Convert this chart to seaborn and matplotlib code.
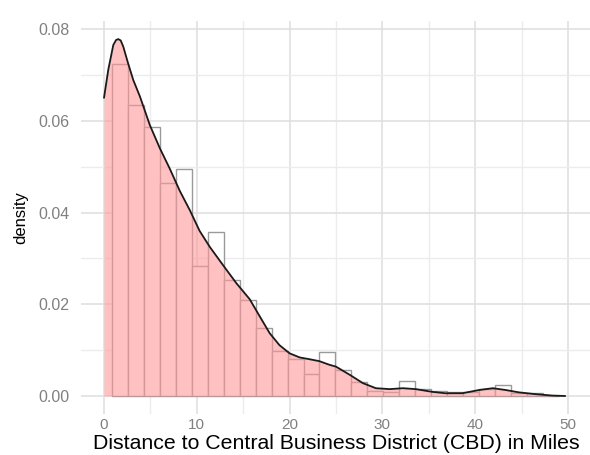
import numpy as np
import pandas as pd
import matplotlib
matplotlib.use("Agg")
import matplotlib.pyplot as plt
import seaborn as sns

# ---- data ----
first_edge = 0.86
bin_width = 1.72
bar_heights = [0.0723, 0.0634, 0.0587, 0.0465, 0.0495, 0.0283, 0.0357, 0.0253,
               0.0210, 0.0148, 0.0098, 0.0080, 0.0049, 0.0097, 0.0056, 0.0030,
               0.0010, 0.0008, 0.0032, 0.0015, 0.0012, 0.0008, 0.0009, 0.0016,
               0.0025, 0.0007, 0.0007, 0.0001]

dens_x = [0.0, 0.46, 1.0, 1.3, 1.54, 1.8, 2.07, 2.6, 3.15, 3.87, 4.95, 6.02,
          7.1, 8.17, 9.25, 10.3, 11.4, 12.8, 14.26, 15.7, 16.8, 17.85, 18.9,
          20.0, 21.1, 22.2, 23.2, 24.3, 25.0, 26.5, 27.9, 29.3, 30.8, 32.2,
          33.6, 35.4, 36.8, 38.6, 40.4, 41.9, 43.3, 44.7, 46.5, 48.3, 49.7]
dens_y = [0.0650, 0.0711, 0.0765, 0.0776, 0.0778, 0.0775, 0.0762, 0.0725,
          0.0689, 0.0653, 0.0590, 0.0540, 0.0495, 0.0447, 0.0405, 0.0360,
          0.0325, 0.0286, 0.0246, 0.0211, 0.0173, 0.0137, 0.0111, 0.0093,
          0.0084, 0.0080, 0.0076, 0.0068, 0.0064, 0.0046, 0.0028, 0.0017,
          0.0015, 0.0017, 0.0015, 0.0009, 0.0006, 0.0006, 0.0013, 0.0017,
          0.0013, 0.0008, 0.0004, 0.0001, 0.0000]

x_ticks = [0, 10, 20, 30, 40, 50]
y_ticks = [0.00, 0.02, 0.04, 0.06, 0.08]
y_tick_labels = ["0.00", "0.02", "0.04", "0.06", "0.08"]
x_title = "Distance to Central Business District (CBD) in Miles"
y_title = "density"

# ---- build tables ----
n = len(bar_heights)
edges = [first_edge + bin_width * k for k in range(n + 1)]
centers = [(edges[k] + edges[k + 1]) / 2 for k in range(n)]
hist_df = pd.DataFrame({"center": centers, "height": bar_heights})
dens_df = pd.DataFrame({"x": dens_x, "y": dens_y})

sns.set_theme(style="white")
plt.rcParams["font.family"] = ["Liberation Sans", "DejaVu Sans"]

fig = plt.figure(figsize=(5.9, 4.55), dpi=100)
ax = fig.add_axes([80.8 / 590, 41.1 / 455, 510.4 / 590, 392.7 / 455])

# grid
ax.set_xticks(x_ticks)
ax.set_xticks([5, 15, 25, 35, 45], minor=True)
ax.set_yticks(y_ticks)
ax.set_yticks([0.01, 0.03, 0.05, 0.07], minor=True)
ax.grid(True, which="major", color="#E0E0E0", linewidth=1.2, zorder=0)
ax.grid(True, which="minor", color="#ECECEC", linewidth=1.0, zorder=0)
ax.set_axisbelow(True)

sns.histplot(data=hist_df, x="center", weights="height", bins=edges,
             stat="count", fill=True, color="white", edgecolor="#9A9A9A",
             linewidth=1.0, alpha=1.0, ax=ax, zorder=2)
ax.fill_between(dens_df["x"], dens_df["y"], 0, color="#FF9999", alpha=0.6,
                linewidth=0, zorder=3)
sns.lineplot(data=dens_df, x="x", y="y", color="#1a1a1a", linewidth=1.3,
             ax=ax, zorder=4)

ax.set_xlim(-2.5, 52.5)
ax.set_ylim(-0.0039, 0.0817)
ax.set_yticklabels(y_tick_labels)
for s in ax.spines.values():
    s.set_visible(False)
ax.tick_params(axis="both", which="both", length=0, labelcolor="#808080",
               labelsize=11.5)
ax.tick_params(axis="x", pad=3, labelsize=11)
ax.tick_params(axis="y", pad=8)
ax.set_xlabel(x_title, fontsize=15.3, color="black")
ax.xaxis.set_label_coords(0.5, -0.052)
ax.set_ylabel(y_title, fontsize=12, color="black", labelpad=7)

fig.savefig("out.png", dpi=100)
